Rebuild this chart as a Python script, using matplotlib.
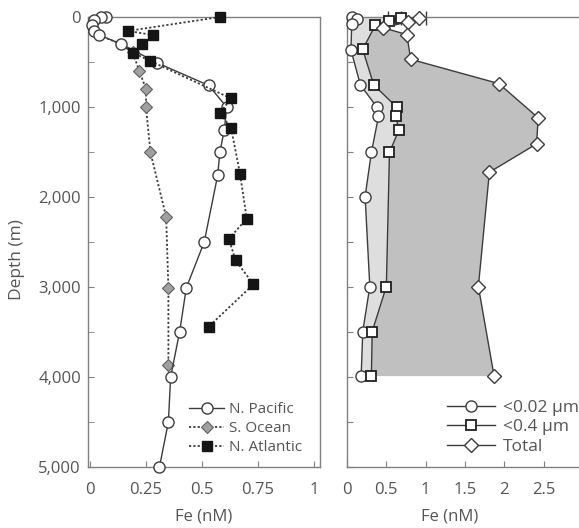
import numpy as np
import matplotlib
matplotlib.use('Agg')
import matplotlib.pyplot as plt

plt.rcParams['font.family'] = ['Open Sans', 'DejaVu Sans']

# Left panel: dissolved Fe profiles by ocean basin
pac_fe = [0.07, 0.05, 0.02, 0.01, 0.02, 0.04, 0.14, 0.30, 0.53, 0.61, 0.60, 0.58, 0.57, 0.51, 0.43, 0.40, 0.36, 0.35, 0.31]
pac_z = [0, 5, 30, 90, 150, 200, 300, 510, 760, 1000, 1250, 1500, 1760, 2500, 3010, 3500, 4000, 4500, 5000]

so_fe = [0.04, 0.13, 0.19, 0.22, 0.25, 0.25, 0.27, 0.34, 0.35, 0.35]
so_z = [200, 295, 390, 600, 800, 1005, 1505, 2220, 3010, 3870]

atl_fe = [0.58, 0.17, 0.28, 0.23, 0.19, 0.27, 0.63, 0.58, 0.63, 0.67, 0.70, 0.62, 0.65, 0.73, 0.53]
atl_z = [0, 155, 200, 295, 395, 490, 905, 1065, 1235, 1745, 2240, 2465, 2705, 2970, 3440]

# Right panel: size-fractionated Fe (N. Pacific)
small_fe = [0.06, 0.13, 0.06, 0.05, 0.17, 0.38, 0.40, 0.31, 0.23, 0.29, 0.20, 0.18]
small_z = [0, 20, 80, 365, 755, 1000, 1105, 1505, 1995, 2995, 3495, 3990]

diss_fe = [0.69, 0.54, 0.36, 0.20, 0.34, 0.63, 0.62, 0.66, 0.54, 0.50, 0.32, 0.31]
diss_z = [10, 40, 90, 360, 755, 1000, 1105, 1255, 1505, 2995, 3495, 3990]

tot_fe = [0.92, 0.77, 0.46, 0.76, 0.81, 1.93, 2.43, 2.41, 1.81, 1.67, 1.87]
tot_z = [10, 55, 120, 195, 470, 740, 1120, 1410, 1725, 2995, 3990]

grey = '#3c3c3c'
txt = '#555555'

fig = plt.figure(figsize=(5.79, 5.28), dpi=100)
ax1 = fig.add_axes([88 / 579, 61 / 528, 232 / 579, 450 / 528])
ax2 = fig.add_axes([347 / 579, 61 / 528, 236 / 579, 450 / 528])

# ---- left panel
ax1.plot(pac_fe, pac_z, '-', color=grey, lw=1.0, marker='o', ms=8,
         mfc='white', mec=grey, mew=1.0, label='N. Pacific', clip_on=False, zorder=3)
ax1.plot(so_fe, so_z, linestyle=(0, (1.2, 1.2)), color=grey, lw=1.3, marker='D', ms=6,
         mfc='#a0a0a0', mec='#606060', mew=0.8, markevery=list(range(2, len(so_fe))),
         label='S. Ocean', clip_on=False, zorder=2)
ax1.plot(atl_fe, atl_z, linestyle=(0, (1.2, 1.2)), color=grey, lw=1.3, marker='s', ms=7,
         mfc='#151515', mec='#151515', label='N. Atlantic', clip_on=False, zorder=4)

ax1.set_xlim(-0.009, 1.027)
ax1.set_ylim(5000, 0)
ax1.set_xticks([0, 0.25, 0.5, 0.75, 1])
ax1.set_xticklabels(['0', '0.25', '0.5', '0.75', '1'])
ax1.set_yticks(range(0, 5001, 1000))
ax1.set_yticklabels(['0', '1,000', '2,000', '3,000', '4,000', '5,000'])
ax1.set_yticks(range(500, 5000, 1000), minor=True)
ax1.set_xlabel('Fe (nM)', fontsize=12, color=txt)
ax1.set_ylabel('Depth (m)', fontsize=12.5, color=txt)
ax1.yaxis.set_label_coords(-0.27, 0.46)
ax1.xaxis.set_label_coords(0.5, -0.093)
leg1 = ax1.legend(loc='lower right', bbox_to_anchor=(0.925, 0.027), frameon=False,
                  fontsize=11, handlelength=2.3, handletextpad=0.35, labelspacing=0.25,
                  borderaxespad=0, borderpad=0)
for t in leg1.get_texts():
    t.set_color(txt)

# ---- right panel
ax2.fill(np.concatenate([tot_fe, diss_fe[::-1]]), np.concatenate([tot_z, diss_z[::-1]]),
         color='#c0c0c0', lw=0, zorder=1)
ax2.fill(np.concatenate([diss_fe, small_fe[::-1]]), np.concatenate([diss_z, small_z[::-1]]),
         color='#dedede', lw=0, zorder=1)
ax2.plot(small_fe, small_z, '-', color=grey, lw=1.0, marker='o', ms=8,
         mfc='white', mec=grey, mew=1.0, label='<0.02 \u00b5m', clip_on=False, zorder=3)
ax2.plot(diss_fe, diss_z, '-', color=grey, lw=1.0, marker='s', ms=7,
         mfc='white', mec='#202020', mew=1.3, label='<0.4 \u00b5m', clip_on=False, zorder=3)
ax2.plot(tot_fe, tot_z, '-', color=grey, lw=1.0, marker='D', ms=7,
         mfc='white', mec=grey, mew=1.0, label='Total', clip_on=False, zorder=3)
# surface error bars
ax2.errorbar([diss_fe[0]], [diss_z[0]], xerr=[[0.17], [0]], fmt='none',
             ecolor=grey, elinewidth=1.0, capsize=5, clip_on=False, zorder=2)
ax2.errorbar([tot_fe[0]], [tot_z[0]], xerr=[[0], [0.08]], fmt='none',
             ecolor=grey, elinewidth=1.0, capsize=5, clip_on=False, zorder=2)

ax2.set_xlim(0, 3.0)
ax2.set_ylim(5000, 0)
ax2.set_xticks([0, 0.5, 1, 1.5, 2, 2.5])
ax2.set_xticklabels(['0', '0.5', '1', '1.5', '2', '2.5'])
ax2.set_yticks(range(0, 5001, 500))
ax2.set_yticklabels([])
ax2.set_xlabel('Fe (nM)', fontsize=12, color=txt)
ax2.xaxis.set_label_coords(0.435, -0.093)
leg2 = ax2.legend(loc='lower left', bbox_to_anchor=(0.424, 0.027), frameon=False,
                  fontsize=12.5, handlelength=2.75, handletextpad=0.45, labelspacing=0.2,
                  borderaxespad=0, borderpad=0)
for t in leg2.get_texts():
    t.set_color(txt)

for ax in (ax1, ax2):
    for s in ax.spines.values():
        s.set_color('#808080')
        s.set_linewidth(1.0)
    ax.tick_params(which='both', direction='in', color='#808080', labelcolor=txt,
                   labelsize=12, length=4)
    ax.tick_params(axis='x', pad=11)
    ax.tick_params(axis='y', pad=5)

fig.savefig('out.png', dpi=100)
